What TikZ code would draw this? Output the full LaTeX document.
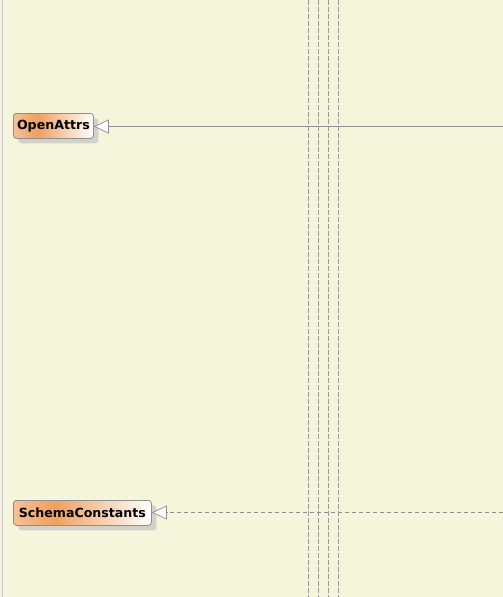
\documentclass[tikz,border=0pt]{standalone}
\usepackage{fontspec}
\setsansfont{DejaVu Sans}
\usetikzlibrary{arrows.meta,shadows}
\definecolor{bg}{HTML}{F5F5DC}
\definecolor{edge}{HTML}{8E8E8E}
\definecolor{lane}{HTML}{9A9A9A}
\definecolor{leftline}{HTML}{C4C4D4}
\definecolor{shade}{HTML}{D2D2CA}
\definecolor{peach}{HTML}{F6C8A2}
\definecolor{orng}{HTML}{F0A060}
\pgfdeclarehorizontalshading{classgrad}{100bp}{color(0bp)=(peach); color(22bp)=(peach); color(40bp)=(orng); color(75bp)=(white); color(100bp)=(white)}
\tikzset{
  classbox/.style={draw=edge, line width=0.8pt, rounded corners=3pt, shading=classgrad,
    font=\sffamily\bfseries\fontsize{12.6}{14}\selectfont, inner xsep=3pt, anchor=north west,
    minimum height=25pt, text=black,
    drop shadow={shadow xshift=5pt, shadow yshift=-5pt, fill=shade, opacity=1}},
  genarrow/.style={-{Triangle[open, fill=white, length=15pt, width=14pt]}, draw=edge, line width=0.7pt},
  lifeline/.style={draw=lane, line width=0.8pt, dash pattern=on 5pt off 2pt}
}
\begin{document}
\begin{tikzpicture}[x=1pt,y=-1pt]
\fill[bg] (0,0) rectangle (503,597);
\useasboundingbox (0,0) rectangle (503,597);
\draw[leftline, line width=1pt] (2.5,0) -- (2.5,597);
\foreach \xx in {308,318,328,338} \draw[lifeline] (\xx,0) -- (\xx,597);
\node[classbox, minimum width=80pt] (oa) at (13,113) {OpenAttrs};
\node[classbox, minimum width=138pt] (sc) at (13,500) {SchemaConstants};
\coordinate (oaend) at (503,126.5);
\coordinate (scend) at (503,512.5);
\draw[genarrow] (oaend) -- (oa.east |- oaend);
\draw[genarrow, dash pattern=on 4pt off 3pt] (scend) -- (sc.east |- scend);
\end{tikzpicture}
\end{document}
